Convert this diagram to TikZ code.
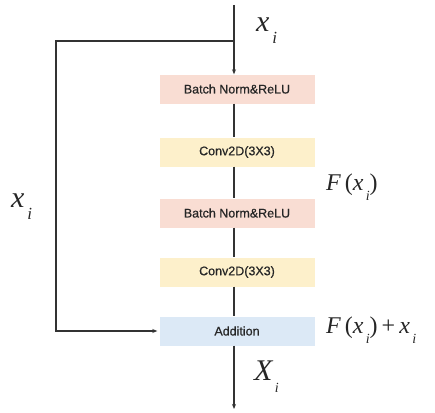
\documentclass[tikz,border=0pt]{standalone}
\usepackage{fontspec}
\setmainfont{Liberation Serif}
\newfontfamily\boxfont[FakeBold=0.6]{Liberation Sans}
\usetikzlibrary{arrows.meta}
\definecolor{bncol}{HTML}{F9DDD3}
\definecolor{convcol}{HTML}{FDF0CB}
\definecolor{addcol}{HTML}{DCE9F6}
\definecolor{linecol}{HTML}{333333}
\newcommand{\vsub}[3]{{\itshape #1}\raisebox{-0.4em}{\fontsize{#3}{#3}\selectfont\itshape\,#2}}
\tikzset{
  x=1pt, y=-1pt,
  blk/.style={minimum width=155pt, minimum height=29pt, inner sep=0pt,
    font=\boxfont\fontsize{12.5}{13}\selectfont, text=black!85},
  bnbox/.style={blk, fill=bncol},
  convbox/.style={blk, fill=convcol},
  addbox/.style={blk, fill=addcol},
  conn/.style={draw=linecol, line width=1.1pt},
  arr/.style={conn, -{Stealth[length=5pt,width=4pt]}},
  lbl/.style={font=\fontsize{24}{24}\selectfont, inner sep=0pt, text=black!85},
  biglbl/.style={lbl, font=\fontsize{30}{30}\selectfont},
}
\begin{document}
\begin{tikzpicture}
\useasboundingbox (0,0) rectangle (435,412);
\node[bnbox]   (bn1)   at (237,89)  {Batch Norm\&ReLU};
\node[convbox] (conv1) at (237,152) {Conv2D(3X3)};
\node[bnbox]   (bn2)   at (237,213) {Batch Norm\&ReLU};
\node[convbox] (conv2) at (237,272) {Conv2D(3X3)};
\node[addbox]  (add)   at (237,331) {Addition};
\coordinate (top) at (234,5);
\coordinate (split) at (234,41);
\coordinate (corner1) at (56,41);
\coordinate (corner2) at (56,331);
\coordinate (bottom) at (234,409);
\draw[arr] (top) -- (bn1.north -| top);
\draw[conn] (bn1.south -| top) -- (conv1.north -| top);
\draw[conn] (conv1.south -| top) -- (bn2.north -| top);
\draw[conn] (bn2.south -| top) -- (conv2.north -| top);
\draw[conn] (conv2.south -| top) -- (add.north -| top);
\draw[arr] (add.south -| top) -- (bottom);
\draw[arr] (split) -- (corner1) -- (corner2) -- ([xshift=-2pt]add.west);
\node[biglbl, anchor=west] (lxtop) at (256,31) {\vsub{x}{i}{17}};
\node[biglbl, anchor=west] (lxleft) at (11,207) {\vsub{x}{i}{17}};
\node[lbl, anchor=west] (lf) at (326,187) {{\itshape F}\,(\vsub{x}{i}{14})};
\node[lbl, anchor=west] (lfx) at (326,330) {{\itshape F}\,(\vsub{x}{i}{14})\,+\,\vsub{x}{i}{14}};
\node[biglbl, anchor=west] (lX) at (254,377) {\vsub{X}{i}{14}};
\end{tikzpicture}
\end{document}
